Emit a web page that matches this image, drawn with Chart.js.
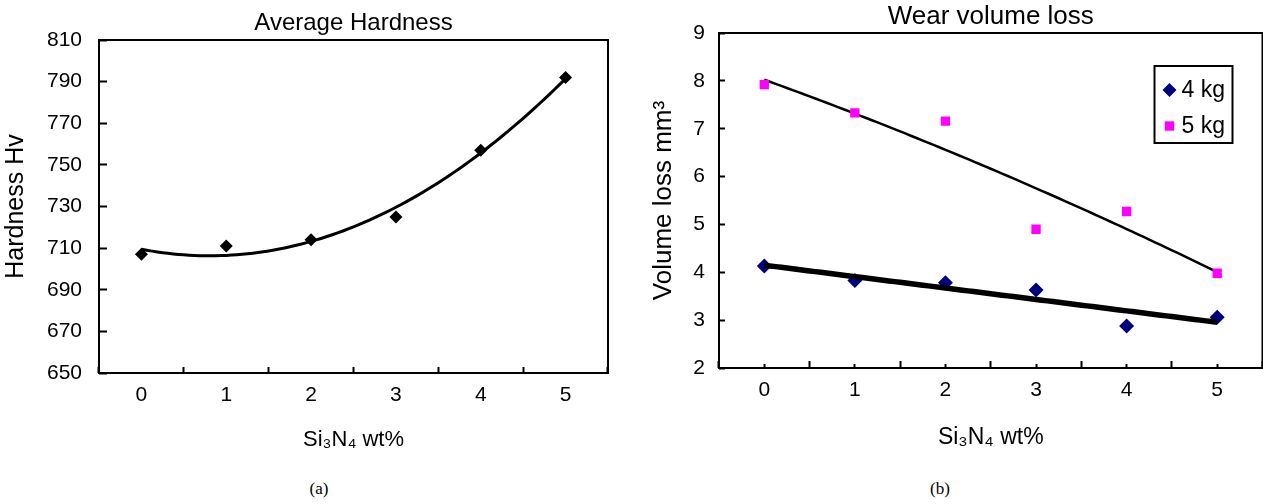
<!DOCTYPE html>
<html>
<head>
<meta charset="utf-8">
<title>Average Hardness / Wear volume loss</title>
<script src="https://cdn.jsdelivr.net/npm/chart.js@4.4.1/dist/chart.umd.min.js"></script>
<style>
  html, body { margin: 0; padding: 0; background: #fff; }
  #wrap { position: relative; width: 1263px; height: 504px; overflow: hidden; background: #fff; }
  .pane { position: absolute; top: 0; }
  #paneA { left: 0; }
  #paneB { left: 640px; }
  .cap { position: absolute; top: 479px; font-family: "Liberation Serif", "Times New Roman", serif;
         font-size: 17px; color: #000; transform: translateX(-50%); white-space: nowrap; }
</style>
</head>
<body>
<div id="wrap">
  <div class="pane" id="paneA"><canvas id="hardness" width="640" height="470"></canvas></div>
  <div class="pane" id="paneB"><canvas id="wear" width="630" height="470"></canvas></div>
  <div class="cap" style="left:319px">(a)</div>
  <div class="cap" style="left:940px">(b)</div>
</div>
<script>
// Si3N4 content (wt%) and measured values
const categories = [0, 1, 2, 3, 4, 5];
const hardness   = [707, 711, 714, 725, 757, 792];      // Hv
const wear4kg    = [4.13, 3.83, 3.78, 3.63, 2.88, 3.06]; // mm^3
const wear5kg    = [7.92, 7.33, 7.16, 4.90, 5.27, 3.98]; // mm^3

const hardnessTicks = { min: 650, max: 810, step: 20 };
const wearTicks     = { min: 2, max: 9, step: 1 };

const FONT = '"Liberation Sans", Arial, Helvetica, sans-serif';
const X_TITLE = 'Si\u2083N\u2084 wt%';

// Least-squares polynomial fit (trendline), solved with Gaussian elimination
function polyFit(xs, ys, degree) {
  const n = degree + 1;
  const A = [];
  for (let r = 0; r < n; r++) {
    const row = [];
    for (let c = 0; c < n; c++) row.push(xs.reduce((s, x) => s + Math.pow(x, r + c), 0));
    row.push(xs.reduce((s, x, i) => s + ys[i] * Math.pow(x, r), 0));
    A.push(row);
  }
  for (let i = 0; i < n; i++) {
    let p = i;
    for (let k = i + 1; k < n; k++) if (Math.abs(A[k][i]) > Math.abs(A[p][i])) p = k;
    [A[i], A[p]] = [A[p], A[i]];
    for (let k = i + 1; k < n; k++) {
      const f = A[k][i] / A[i][i];
      for (let j = i; j <= n; j++) A[k][j] -= f * A[i][j];
    }
  }
  const coef = new Array(n).fill(0);
  for (let i = n - 1; i >= 0; i--) {
    let s = A[i][n];
    for (let j = i + 1; j < n; j++) s -= A[i][j] * coef[j];
    coef[i] = s / A[i][i];
  }
  return coef;
}

// Sample the fitted trendline across the measured range
function trendline(xs, ys, degree) {
  const c = polyFit(xs, ys, degree);
  const lo = Math.min(...xs), hi = Math.max(...xs), steps = 80;
  const pts = [];
  for (let i = 0; i <= steps; i++) {
    const x = lo + (hi - lo) * i / steps;
    pts.push({ x, y: c.reduce((s, a, k) => s + a * Math.pow(x, k), 0) });
  }
  return pts;
}

const toPoints = (ys) => categories.map((x, i) => ({ x, y: ys[i] }));

// Closed box around the plotting area
const framePlugin = {
  id: 'frame',
  afterDatasetsDraw(chart) {
    const { ctx, chartArea: a } = chart;
    ctx.save();
    ctx.strokeStyle = '#000';
    ctx.lineWidth = 2;
    ctx.strokeRect(a.left, a.top, a.right - a.left, a.bottom - a.top);
    ctx.restore();
  }
};

// Boxed legend placed inside the top-right corner of the plotting area
const insetLegendPlugin = {
  id: 'insetLegend',
  afterDraw(chart, args, o) {
    if (!o || !o.display) return;
    const { ctx, chartArea: a } = chart;
    const items = chart.data.datasets.filter(d => d.inLegend);
    const x0 = a.right - o.right - o.width;
    const y0 = a.top + o.top;
    ctx.save();
    ctx.fillStyle = '#fff';
    ctx.fillRect(x0, y0, o.width, o.height);
    ctx.lineWidth = 2;
    ctx.strokeStyle = '#000';
    ctx.strokeRect(x0, y0, o.width, o.height);
    ctx.font = o.font;
    ctx.textBaseline = 'middle';
    ctx.textAlign = 'left';
    items.forEach((d, i) => {
      const cy = y0 + o.firstRow + i * o.rowGap;
      const cx = x0 + o.markerX;
      ctx.fillStyle = d.backgroundColor;
      ctx.beginPath();
      if (d.pointStyle === 'rectRot') {
        const r = o.diamond;
        ctx.moveTo(cx, cy - r); ctx.lineTo(cx + r, cy); ctx.lineTo(cx, cy + r); ctx.lineTo(cx - r, cy);
        ctx.closePath();
      } else {
        const s = o.square;
        ctx.rect(cx - s, cy - s, 2 * s, 2 * s);
      }
      ctx.fill();
      ctx.fillStyle = '#000';
      ctx.fillText(d.label, x0 + o.textX, cy + 1);
    });
    ctx.restore();
  }
};

function xAxis(height, tickLen, pad, titleSize, titleBottom) {
  return {
    type: 'linear', position: 'bottom', weight: 1,
    min: -0.5, max: 5.5,
    afterBuildTicks: (s) => { s.ticks = categories.map(v => ({ value: v })); },
    afterFit: (s) => { s.height = height; },
    grid: { offset: true, drawOnChartArea: false, drawTicks: true, tickLength: tickLen, tickWidth: 2, tickColor: '#000' },
    border: { display: false },
    ticks: { padding: pad, color: '#000', font: { family: FONT, size: 21 }, maxRotation: 0 },
    title: { display: true, text: X_TITLE, color: '#000', font: { family: FONT, size: titleSize }, padding: { top: 0, bottom: titleBottom } }
  };
}

// (a) Average hardness vs Si3N4 content
new Chart(document.getElementById('hardness'), {
  type: 'scatter',
  data: {
    datasets: [
      {
        label: 'Hardness', data: toPoints(hardness),
        pointStyle: 'rectRot', pointRadius: 6.5, pointBorderWidth: 0,
        backgroundColor: '#000', borderColor: '#000', order: 0
      },
      {
        label: 'Poly. (Hardness)', data: trendline(categories, hardness, 2),
        showLine: true, borderColor: '#000', borderWidth: 3, pointRadius: 0, order: 1
      }
    ]
  },
  options: {
    responsive: false, animation: false, events: [],
    layout: { padding: { left: 0, right: 32, top: 0, bottom: 0 } },
    plugins: {
      legend: { display: false }, tooltip: { enabled: false },
      title: { display: true, fullSize: false, text: 'Average Hardness', color: '#000',
               font: { family: FONT, size: 24, weight: 'normal' }, padding: { top: 9, bottom: 2.2 } }
    },
    scales: {
      x: xAxis(97, -6, 16, 22, 16.8),
      y: {
        min: hardnessTicks.min, max: hardnessTicks.max,
        afterFit: (s) => { s.width = 99; },
        grid: { drawOnChartArea: false, drawTicks: true, tickLength: -8, tickWidth: 2, tickColor: '#000' },
        border: { display: false },
        ticks: { stepSize: hardnessTicks.step, padding: 25, color: '#000', font: { family: FONT, size: 21 } },
        title: { display: true, text: 'Hardness Hv', color: '#000', font: { family: FONT, size: 25 }, padding: { top: 1, bottom: 0 } }
      }
    }
  },
  plugins: [framePlugin]
});

// (b) Wear volume loss vs Si3N4 content at two loads
new Chart(document.getElementById('wear'), {
  type: 'scatter',
  data: {
    datasets: [
      {
        label: '4 kg', inLegend: true, data: toPoints(wear4kg),
        pointStyle: 'rectRot', pointRadius: 7.5, pointBorderWidth: 0,
        backgroundColor: '#000080', borderColor: '#000080', order: 2
      },
      {
        label: '5 kg', inLegend: true, data: toPoints(wear5kg),
        pointStyle: 'rect', pointRadius: 6.6, pointBorderWidth: 0,
        backgroundColor: '#ff00ff', borderColor: '#ff00ff', order: 0
      },
      {
        label: 'Linear (4 kg)', data: trendline(categories, wear4kg, 1),
        showLine: true, borderColor: '#000', borderWidth: 5.5, pointRadius: 0, order: 1
      },
      {
        label: 'Poly. (5 kg)', data: trendline(categories, wear5kg, 2),
        showLine: true, borderColor: '#000', borderWidth: 2.5, pointRadius: 0, order: 3
      }
    ]
  },
  options: {
    responsive: false, animation: false, events: [],
    layout: { padding: { left: 0, right: 0, top: 0, bottom: 0 } },
    plugins: {
      legend: { display: false }, tooltip: { enabled: false },
      title: { display: true, fullSize: false, text: 'Wear volume loss', color: '#000',
               font: { family: FONT, size: 26, weight: 'normal' }, padding: { top: 1, bottom: 0.8 } },
      insetLegend: {
        display: true, width: 78, height: 77, right: 30, top: 33,
        firstRow: 24, rowGap: 36, markerX: 15, textX: 27,
        diamond: 7, square: 4.7, font: '23px ' + FONT
      }
    },
    scales: {
      xc: {
        type: 'linear', position: 'bottom', weight: 0,
        min: -0.5, max: 5.5,
        afterBuildTicks: (s) => { s.ticks = categories.map(v => ({ value: v })); },
        afterFit: (s) => { s.height = 0; },
        grid: { offset: false, drawOnChartArea: false, drawTicks: true, tickLength: -4, tickWidth: 2, tickColor: '#000' },
        border: { display: false },
        ticks: { display: false }
      },
      x: xAxis(102, -7, 17, 23, 18.2),
      y: {
        min: wearTicks.min, max: wearTicks.max,
        afterFit: (s) => { s.width = 79; },
        grid: { drawOnChartArea: false, drawTicks: true, tickLength: -6, tickWidth: 2, tickColor: '#000' },
        border: { display: false },
        ticks: { stepSize: wearTicks.step, padding: 20, color: '#000', font: { family: FONT, size: 21 } },
        title: { display: true, text: 'Volume loss mm\u00b3', color: '#000', font: { family: FONT, size: 26 }, padding: { top: 8.4, bottom: 0 } }
      }
    }
  },
  plugins: [framePlugin, insetLegendPlugin]
});
</script>
</body>
</html>
